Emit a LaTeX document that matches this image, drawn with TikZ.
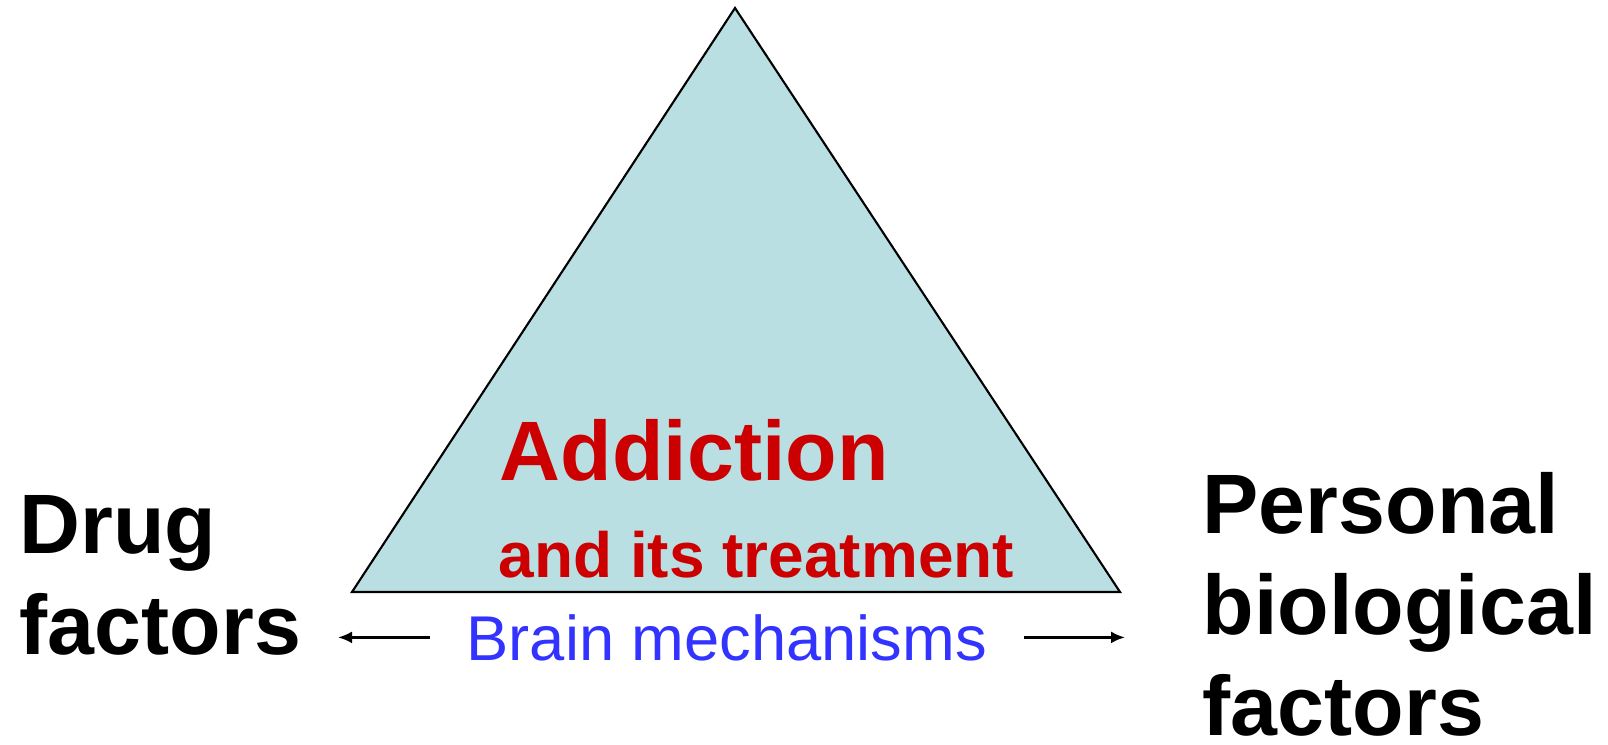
\documentclass[tikz,border=0pt]{standalone}
\usepackage{fontspec}
\setmainfont{Liberation Sans}
\usepackage{tikz}
\usetikzlibrary{arrows}
\usetikzlibrary{arrows.meta}
\definecolor{trifill}{RGB}{185,223,226}
\definecolor{addred}{RGB}{204,0,0}
\definecolor{brainblue}{RGB}{51,51,255}
\tikzset{
  factor/.style={inner sep=0pt,anchor=base west,align=left,font=\fontsize{24}{28.6}\selectfont\bfseries},
  mechanism/.style={-{Latex[length=1.4mm,width=1.2mm]},line width=0.7pt},
}
\begin{document}
\begin{tikzpicture}[scale=1]
\useasboundingbox (0,0) rectangle (16.08,7.44);
\draw[fill=trifill,draw=black,semithick] (3.52,1.52) -- (7.35,7.36) -- (11.20,1.52) -- cycle;
\node[factor,addred] (addiction) at (4.99,2.64) {Addiction};
\node[inner sep=0pt,anchor=base west,addred,font=\fontsize{18.2}{21}\selectfont\bfseries] (treatment) at (4.98,1.67) {and its treatment};
\node[brainblue,inner xsep=0.36cm,inner ysep=0pt,anchor=base west,font=\fontsize{18}{21}\selectfont] (brain) at (4.30,0.84) {Brain mechanisms};
\coordinate (drugend) at (3.38,1.06);
\coordinate (persend) at (11.25,1.06);
\draw[mechanism] (brain.west) -- (brain.west -| drugend);
\draw[mechanism] (brain.east) -- (brain.east -| persend);
\node[factor] (drug) at (0.19,0.90) {Drug\\factors};
\node[factor] (personal) at (12.02,0.09) {Personal\\biological\\factors};
\end{tikzpicture}
\end{document}
